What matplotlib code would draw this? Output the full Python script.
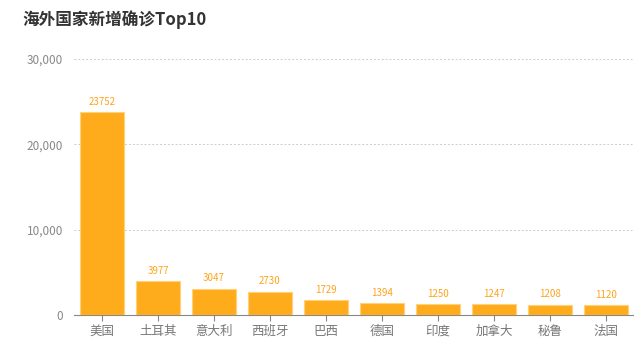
import numpy as np
import matplotlib.pyplot as plt
from matplotlib.ticker import FuncFormatter

plt.rcParams['font.family'] = ['Noto Sans CJK SC', 'DejaVu Sans']

countries = ["美国", "土耳其", "意大利", "西班牙", "巴西", "德国", "印度", "加拿大", "秘鲁", "法国"]
new_cases = [23752, 3977, 3047, 2730, 1729, 1394, 1250, 1247, 1208, 1120]

fig = plt.figure(figsize=(6.34, 3.62), dpi=100)
ax = fig.add_axes([0.1167, 0.1298, 0.8833, 0.7072])

x = np.arange(len(countries))
bars = ax.bar(x, new_cases, width=0.8, color="#FFAC1C", edgecolor="#FFD27A", linewidth=0.8, zorder=3)
for xi, v in zip(x, new_cases):
    ax.text(xi, v + 650, str(v), ha="center", va="bottom", fontsize=7, color="#FFA31A")

ax.set_xlim(-0.5, len(countries) - 0.5)
ax.set_ylim(0, 30000)
ax.set_yticks([0, 10000, 20000, 30000])
ax.yaxis.set_major_formatter(FuncFormatter(lambda v, p: f"{int(v):,}"))
ax.set_xticks(x)
ax.set_xticklabels(countries)
ax.grid(axis="y", linestyle=(0, (2, 2)), color="#cccccc", linewidth=0.7, zorder=0)
for s in ["left", "right", "top"]:
    ax.spines[s].set_visible(False)
ax.spines["bottom"].set_color("#888888")
ax.tick_params(axis="y", length=0, labelsize=8.5, labelcolor="#888888", pad=8)
ax.tick_params(axis="x", length=4, color="#888888", labelsize=9, labelcolor="#777777", pad=3)

fig.text(22 / 634, 1 - 20 / 362, "海外国家新增确诊Top10", fontsize=12, fontweight="bold",
         color="#333333", ha="left", va="center")

fig.savefig("out.png", dpi=100)
